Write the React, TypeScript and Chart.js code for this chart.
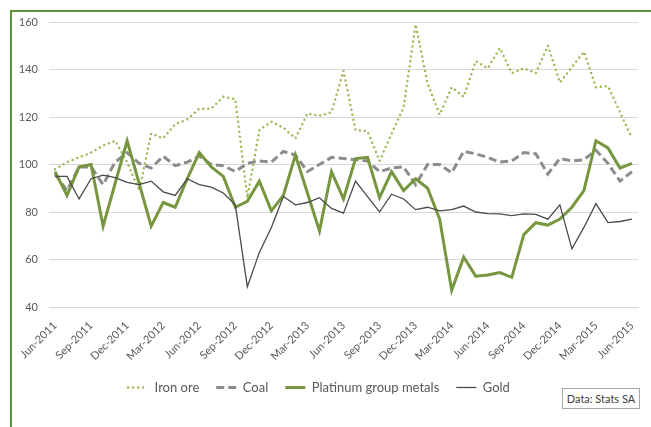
import React, { useEffect, useRef } from "react";
import { Chart, registerables } from "chart.js";

Chart.register(...registerables);

const months = [
  "Jun-2011", "Jul-2011", "Aug-2011", "Sep-2011", "Oct-2011", "Nov-2011", "Dec-2011",
  "Jan-2012", "Feb-2012", "Mar-2012", "Apr-2012", "May-2012", "Jun-2012", "Jul-2012",
  "Aug-2012", "Sep-2012", "Oct-2012", "Nov-2012", "Dec-2012", "Jan-2013", "Feb-2013",
  "Mar-2013", "Apr-2013", "May-2013", "Jun-2013", "Jul-2013", "Aug-2013", "Sep-2013",
  "Oct-2013", "Nov-2013", "Dec-2013", "Jan-2014", "Feb-2014", "Mar-2014", "Apr-2014",
  "May-2014", "Jun-2014", "Jul-2014", "Aug-2014", "Sep-2014", "Oct-2014", "Nov-2014",
  "Dec-2014", "Jan-2015", "Feb-2015", "Mar-2015", "Apr-2015", "May-2015", "Jun-2015",
];

const ironOre = [
  98, 101, 103, 105, 108, 110, 101, 89, 113, 111, 117, 119, 123.5, 123.5, 128.5, 127.5,
  86, 114.5, 118, 115.5, 111, 121.5, 120.5, 122, 139.5, 114.5, 114, 101.5, 113, 124,
  159, 134, 121, 132.5, 128.5, 143.5, 140.5, 149, 138.5, 140.5, 138.5, 150, 134.5, 141,
  147.5, 132.5, 133, 122, 111,
];

const coal = [
  96, 89, 99, 99, 91.5, 101, 105, 100.5, 98.5, 103.5, 99.5, 101, 103.5, 100, 99.5, 97,
  100.5, 101.5, 101, 105.5, 104, 97, 100, 103, 102.5, 102, 101.5, 97, 98.5, 99, 91.5,
  100, 100, 96.5, 105.5, 104.5, 103, 101, 101.5, 105, 104.5, 96, 102.5, 101.5, 102,
  106, 100.5, 93, 97,
];

const platinum = [
  97, 87, 99, 100, 74, 92, 110, 92, 74, 84, 82, 94, 105, 99, 95, 82, 84.5, 93, 80.5, 87,
  104, 88, 72, 97, 85.5, 102.5, 103, 86, 97, 89, 94, 90, 77, 47, 61, 53, 53.5, 54.5,
  52.5, 70.5, 75.5, 74.5, 77, 82, 89, 110, 107, 98.5, 100.5,
];

const gold = [
  95, 95, 85.5, 94, 95.5, 94.5, 92.5, 91.5, 93, 88.5, 87, 94, 91.5, 90.5, 88, 83, 48.5,
  63, 73.5, 86.5, 83, 84, 86, 81.5, 79.5, 93, 86.5, 80, 87.5, 85.5, 81, 82, 80.5, 81,
  82.5, 80, 79.3, 79.2, 78.5, 79.2, 79, 77, 83, 64.5, 73.5, 83.5, 75.5, 76, 77,
];

const seriesNames = ["Iron ore", "Coal", "Platinum group metals", "Gold"];
const sourceNote = "Data: Stats SA";

const FONT = "Lato, 'Open Sans', sans-serif";

export default function App() {
  const canvasRef = useRef<HTMLCanvasElement | null>(null);

  useEffect(() => {
    const canvas = canvasRef.current;
    if (!canvas) return;
    const chart = new Chart(canvas, {
      type: "line",
      data: {
        labels: months,
        datasets: [
          {
            label: seriesNames[0],
            data: ironOre,
            borderColor: "#9bbb59",
            borderWidth: 2.5,
            borderDash: [0, 5],
            borderCapStyle: "round",
            pointRadius: 0,
            tension: 0,
            fill: false,
            order: 4,
          },
          {
            label: seriesNames[1],
            data: coal,
            borderColor: "#8c8c8c",
            borderWidth: 3,
            borderDash: [8, 4],
            pointRadius: 0,
            tension: 0,
            fill: false,
            order: 3,
          },
          {
            label: seriesNames[2],
            data: platinum,
            borderColor: "#76973f",
            borderWidth: 3,
            pointRadius: 0,
            tension: 0,
            fill: false,
            order: 2,
          },
          {
            label: seriesNames[3],
            data: gold,
            borderColor: "#4a4a4a",
            borderWidth: 1.3,
            pointRadius: 0,
            tension: 0,
            fill: false,
            order: 1,
          },
        ],
      },
      options: {
        animation: false,
        responsive: false,
        maintainAspectRatio: false,
        layout: { padding: { top: 22, right: 13, left: 0, bottom: 23 } },
        plugins: {
          tooltip: { enabled: false },
          legend: {
            position: "bottom",
            labels: {
              usePointStyle: true,
              pointStyle: "line",
              pointStyleWidth: 20,
              padding: 17,
              color: "#595959",
              font: { family: FONT, size: 13 },
              sort: (a: any, b: any) => a.datasetIndex - b.datasetIndex,
              generateLabels: (ch: any) =>
                ch.data.datasets.map((ds: any, i: number) => ({
                  text: ds.label,
                  datasetIndex: i,
                  fillStyle: ds.borderColor,
                  strokeStyle: ds.borderColor,
                  lineWidth: ds.borderWidth,
                  lineDash: ds.borderDash || [],
                  lineCap: ds.borderCapStyle || "butt",
                  pointStyle: "line",
                  fontColor: "#595959",
                  hidden: false,
                })),
            },
          },
        },
        scales: {
          x: {
            offset: true,
            grid: { display: false },
            border: { display: true, color: "#d9d9d9" },
            ticks: {
              autoSkip: false,
              maxRotation: 45,
              minRotation: 45,
              padding: 4,
              color: "#595959",
              font: { family: FONT, size: 11 },
              callback: (_v: any, i: number) => (i % 3 === 0 ? months[i] : ""),
            },
            afterFit: (scale: any) => {
              scale.height = 57;
            },
          },
          y: {
            min: 40,
            max: 160,
            grid: { color: "#d9d9d9", drawTicks: false },
            border: { display: false },
            ticks: {
              stepSize: 20,
              padding: 11,
              color: "#595959",
              font: { family: FONT, size: 11 },
            },
            afterFit: (scale: any) => {
              scale.width = 49;
            },
          },
        },
      },
    });
    return () => chart.destroy();
  }, []);

  return (
    <div style={{ position: "absolute", left: 0, top: 0, width: 651, height: 427, background: "#fff", overflow: "hidden" }}>
      <div
        style={{
          position: "absolute",
          left: 10,
          top: 10,
          width: 641,
          height: 417,
          borderTop: "2.5px solid #5f9236",
          borderLeft: "2.5px solid #5f9236",
          boxSizing: "border-box",
        }}
      />
      <canvas ref={canvasRef} width={651} height={427} style={{ position: "absolute", left: 0, top: 0 }} />
      <div
        style={{
          position: "absolute",
          left: 562,
          top: 388,
          width: 78,
          height: 21,
          border: "1px solid #a6a6a6",
          boxSizing: "border-box",
          fontFamily: FONT,
          fontSize: 11,
          color: "#404040",
          display: "flex",
          alignItems: "center",
          justifyContent: "center",
          background: "#fff",
        }}
      >
        {sourceNote}
      </div>
    </div>
  );
}
